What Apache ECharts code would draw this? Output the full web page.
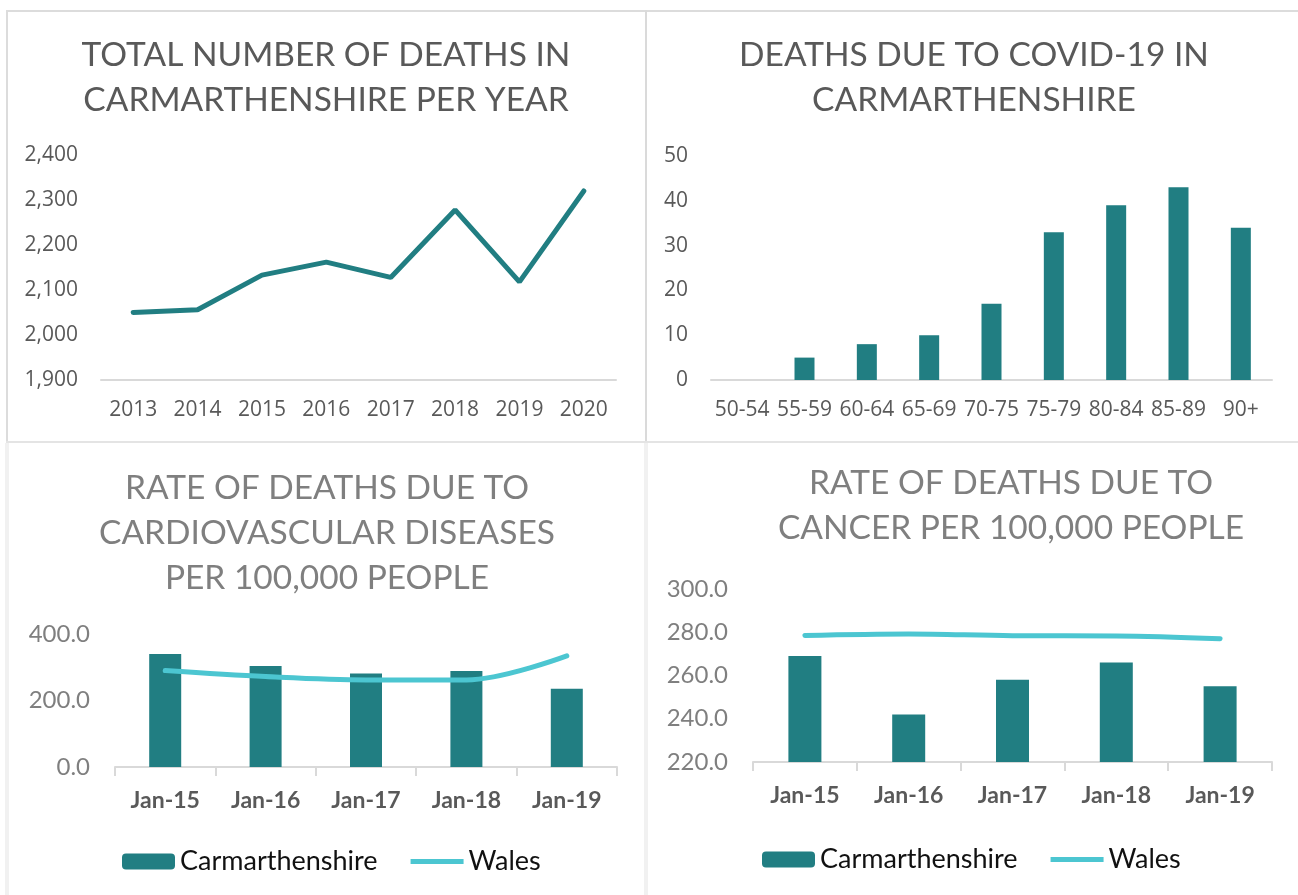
<!DOCTYPE html>
<html>
<head>
<meta charset="utf-8">
<script src="https://cdn.jsdelivr.net/npm/echarts@6/dist/echarts.min.js"></script>
<style>
  html, body { margin: 0; padding: 0; background: #fff; }
  .page { position: relative; width: 1298px; height: 895px; overflow: hidden; }
  .chart { position: absolute; }
  .line { position: absolute; }
  #c1 { left: 0; top: 0; width: 646px; height: 442px; }
  #c2 { left: 646px; top: 0; width: 652px; height: 442px; }
  #c3 { left: 0; top: 442px; width: 646px; height: 453px; }
  #c4 { left: 646px; top: 442px; width: 652px; height: 453px; }
</style>
</head>
<body>
<div class="page">
  <!-- panel borders -->
  <div class="line" style="left:6px;top:10px;width:1292px;height:2px;background:#dcdcdc;"></div>
  <div class="line" style="left:6px;top:10px;width:2px;height:432px;background:#dcdcdc;"></div>
  <div class="line" style="left:645px;top:10px;width:2px;height:432px;background:#dadada;"></div>
  <div class="line" style="left:6px;top:441px;width:1292px;height:2px;background:#e4e4e4;"></div>
  <div class="line" style="left:5px;top:443px;width:4px;height:452px;background:#f1f1f1;"></div>
  <div class="line" style="left:644px;top:443px;width:4px;height:452px;background:#f1f1f1;"></div>

  <div id="c1" class="chart"></div>
  <div id="c2" class="chart"></div>
  <div id="c3" class="chart"></div>
  <div id="c4" class="chart"></div>
</div>
<script>
// total deaths per year
const years = ['2013', '2014', '2015', '2016', '2017', '2018', '2019', '2020'];
const totalDeaths = [2050, 2056, 2133, 2162, 2128, 2278, 2118, 2320];

// covid deaths by age band
const ageBands = ['50-54', '55-59', '60-64', '65-69', '70-75', '75-79', '80-84', '85-89', '90+'];
const covidDeaths = [0, 5, 8, 10, 17, 33, 39, 43, 34];

// rates per 100,000
const rateYears = ['Jan-15', 'Jan-16', 'Jan-17', 'Jan-18', 'Jan-19'];
const cvdCarm = [340, 304, 281, 289, 235];
const cvdWales = [290, 272, 262, 262, 334];
const cancerCarm = [269, 242, 258, 266, 255];
const cancerWales = [278.5, 279.2, 278.4, 278.3, 277.0];

const teal = '#217E82';
const cyan = '#4CC6D1';
const axisGrey = '#d9d9d9';

function titleOpt(text, left, top, color) {
    return {
        text: text,
        left: left,
        top: top,
        textAlign: 'center',
        textStyle: {
            fontFamily: 'Lato',
            fontWeight: 'normal',
            fontSize: 33.5,
            lineHeight: 45,
            color: color
        }
    };
}

// top left - line
let chart1 = echarts.init(document.getElementById('c1'));
chart1.setOption({
    animation: false,
    title: titleOpt('TOTAL NUMBER OF DEATHS IN\nCARMARTHENSHIRE PER YEAR', 321, 28, '#595959'),
    grid: { left: 101, top: 155, width: 515, height: 225 },
    xAxis: {
        type: 'category',
        data: years,
        axisLine: { lineStyle: { color: axisGrey, width: 2 } },
        axisTick: { show: false },
        axisLabel: { color: '#595959', fontFamily: 'Open Sans', fontSize: 21, margin: 20 }
    },
    yAxis: {
        type: 'value',
        min: 1900,
        max: 2400,
        interval: 100,
        splitLine: { show: false },
        axisLine: { show: false },
        axisLabel: {
            color: '#595959', fontFamily: 'Open Sans', fontSize: 21, margin: 23,
            formatter: function (v) { return v.toLocaleString('en-GB'); }
        }
    },
    series: [{
        name: 'Deaths',
        type: 'line',
        data: totalDeaths,
        symbol: 'none',
        lineStyle: { color: teal, width: 5, cap: 'round' }
    }]
});

// top right - bars
let chart2 = echarts.init(document.getElementById('c2'));
chart2.setOption({
    animation: false,
    title: titleOpt('DEATHS DUE TO COVID-19 IN\nCARMARTHENSHIRE', 323, 28, '#595959'),
    grid: { left: 65, top: 156, width: 561, height: 224 },
    xAxis: {
        type: 'category',
        data: ageBands,
        axisLine: { lineStyle: { color: axisGrey, width: 2 } },
        axisTick: { show: false },
        axisLabel: { color: '#595959', fontFamily: 'Open Sans', fontSize: 21, margin: 20, interval: 0 }
    },
    yAxis: {
        type: 'value',
        min: 0,
        max: 50,
        interval: 10,
        splitLine: { show: false },
        axisLine: { show: false },
        axisLabel: { color: '#595959', fontFamily: 'Open Sans', fontSize: 21, margin: 23 }
    },
    series: [{
        name: 'COVID-19 deaths',
        type: 'bar',
        data: covidDeaths,
        barWidth: 20,
        itemStyle: { color: teal }
    }]
});

// flat bar used as the legend mark for the Wales line
const lineIcon = 'path://M0,0 L110,0 L110,10 L0,10 Z';

function rateOption(title, titleLeft, titleTop, grid, yMin, yMax, yStep, barData, lineData, barWidth, legendLeft, legendTop) {
    return {
        animation: false,
        title: titleOpt(title, titleLeft, titleTop, '#7f7f7f'),
        legend: {
            data: ['Carmarthenshire', { name: 'Wales', icon: lineIcon }],
            left: legendLeft,
            top: legendTop,
            itemWidth: 53,
            itemHeight: 16,
            itemGap: 33,
            textStyle: { fontFamily: 'Lato', fontSize: 27, color: '#111' }
        },
        grid: grid,
        xAxis: {
            type: 'category',
            data: rateYears,
            axisLine: { lineStyle: { color: axisGrey, width: 2 } },
            axisTick: { show: true, length: 9, lineStyle: { color: axisGrey, width: 2 } },
            axisLabel: { color: '#595959', fontFamily: 'Lato', fontWeight: 'bold', fontSize: 23, margin: 22 }
        },
        yAxis: {
            type: 'value',
            min: yMin,
            max: yMax,
            interval: yStep,
            splitLine: { show: false },
            axisLine: { show: false },
            axisLabel: {
                color: '#7f7f7f', fontFamily: 'Lato', fontSize: 24, margin: 25,
                formatter: function (v) { return v.toFixed(1); }
            }
        },
        series: [{
            name: 'Carmarthenshire',
            type: 'bar',
            data: barData,
            barWidth: barWidth,
            itemStyle: { color: teal }
        }, {
            name: 'Wales',
            type: 'line',
            data: lineData,
            smooth: 0.35,
            symbol: 'none',
            lineStyle: { color: cyan, width: 5, cap: 'round' },
            itemStyle: { color: cyan }
        }]
    };
}

// bottom left
let chart3 = echarts.init(document.getElementById('c3'));
chart3.setOption(rateOption('RATE OF DEATHS DUE TO\nCARDIOVASCULAR DISEASES\nPER 100,000 PEOPLE', 322, 19,
    { left: 115, top: 192, width: 502, height: 133 }, 0, 400, 200, cvdCarm, cvdWales, 32, 117, 401));

// bottom right
let chart4 = echarts.init(document.getElementById('c4'));
chart4.setOption(rateOption('RATE OF DEATHS DUE TO\nCANCER PER 100,000 PEOPLE', 360, 14,
    { left: 107, top: 147, width: 519, height: 173 }, 220, 300, 20, cancerCarm, cancerWales, 33, 111, 399));
</script>
</body>
</html>
